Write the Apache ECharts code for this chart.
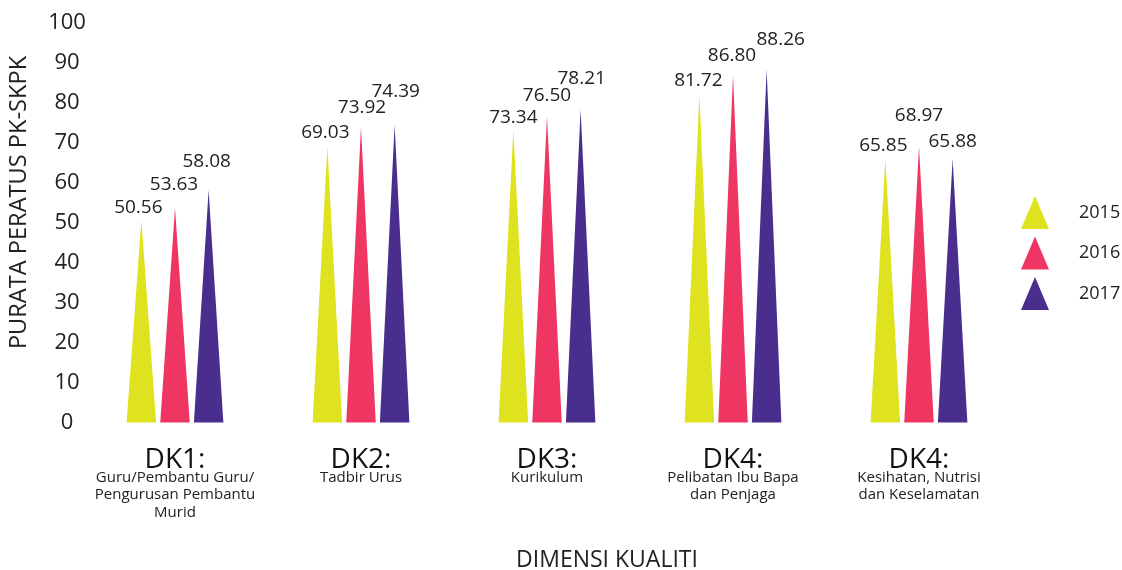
<!DOCTYPE html>
<html>
<head>
<meta charset="utf-8">
<script src="https://cdn.jsdelivr.net/npm/echarts@6/dist/echarts.min.js"></script>
<style>
html,body{margin:0;padding:0;background:#fff;}
#chart{width:1122px;height:570px;}
</style>
</head>
<body>
<div id="chart"></div>
<script>
var codes = ['DK1:', 'DK2:', 'DK3:', 'DK4:', 'DK4:'];
var subtitles = [
  'Guru/Pembantu Guru/\nPengurusan Pembantu\nMurid',
  'Tadbir Urus',
  'Kurikulum',
  'Pelibatan Ibu Bapa\ndan Penjaga',
  'Kesihatan, Nutrisi\ndan Keselamatan'
];
var years = ['2015', '2016', '2017'];
var v2015 = [50.56, 69.03, 73.34, 81.72, 65.85];
var v2016 = [53.63, 73.92, 76.50, 86.80, 68.97];
var v2017 = [58.08, 74.39, 78.21, 88.26, 65.88];
var yTicks = [0, 10, 20, 30, 40, 50, 60, 70, 80, 90, 100];

// label placement (layout only): how far each value label sits above its tip, and sideways nudge
var labelRise = [
  [16, 17, 15, 19, 17],
  [27, 23, 24, 23, 35],
  [32, 37, 35, 33, 21]
];
var labelNudge = [
  [-3, -2, 0, -1, -2],
  [-1, 1, 0, -1, 0],
  [-2, 1, 1, 14, 0]
];

var colors = ['#DFE21F', '#EF3561', '#4A2E8E'];
var FONT = "'Open Sans', 'Noto Sans', sans-serif";
var LABEL_SIZE = 19;

var categories = codes.map(function (c, i) { return c + '\n' + subtitles[i]; });
var seriesValues = [v2015, v2016, v2017];

var chart = echarts.init(document.getElementById('chart'), null, {renderer: 'canvas'});

var option = {
  backgroundColor: '#ffffff',
  animation: false,
  grid: {left: 82, right: 110, top: 22.5, bottom: 147.5},
  legend: {
    orient: 'vertical',
    left: 1016,
    top: 191,
    itemWidth: 28,
    itemHeight: 33,
    itemGap: 7.5,
    icon: 'triangle',
    data: years,
    textStyle: {fontFamily: FONT, fontSize: 18, color: '#222', padding: [0, 0, 0, 25]}
  },
  xAxis: {
    type: 'category',
    data: categories,
    axisLine: {show: false},
    axisTick: {show: false},
    axisLabel: {
      interval: 0,
      margin: 30,
      formatter: function (val) {
        var parts = val.split('\n');
        var out = '{a|' + parts[0] + '}';
        for (var i = 1; i < parts.length; i++) out += '\n{b|' + parts[i] + '}';
        return out;
      },
      rich: {
        a: {fontFamily: FONT, fontSize: 28, color: '#111', lineHeight: 16},
        b: {fontFamily: FONT, fontSize: 15, color: '#222', lineHeight: 17.5}
      }
    }
  },
  yAxis: {
    type: 'value',
    min: 0,
    max: 100,
    interval: 10,
    axisLine: {show: false},
    axisTick: {show: false},
    splitLine: {show: false},
    axisLabel: {
      fontFamily: FONT, fontSize: 22, color: '#222', align: 'center', margin: 15,
      formatter: function (v) { return yTicks.indexOf(v) >= 0 ? String(v) : ''; }
    }
  },
  graphic: [{
    type: 'text',
    x: 19,
    y: 202.5,
    rotation: Math.PI / 2,
    style: {
      text: 'PURATA PERATUS PK-SKPK',
      fontFamily: FONT, fontSize: 23.6, fill: '#222',
      align: 'center', verticalAlign: 'middle'
    }
  }, {
    type: 'text',
    x: 607,
    y: 560,
    style: {
      text: 'DIMENSI KUALITI',
      fontFamily: FONT, fontSize: 23, fill: '#222',
      align: 'center', verticalAlign: 'middle'
    }
  }],
  series: years.map(function (y, i) {
    return {
      name: y,
      type: 'pictorialBar',
      symbol: 'triangle',
      barWidth: 29.5,
      barGap: '14%',
      itemStyle: {color: colors[i]},
      label: {
        show: true,
        position: 'top',
        distance: 0,
        fontFamily: FONT,
        fontSize: LABEL_SIZE,
        color: '#222',
        formatter: function (p) { return p.value.toFixed(2); }
      },
      data: seriesValues[i].map(function (v, j) {
        return {
          value: v,
          label: {offset: [labelNudge[i][j], -(labelRise[i][j] - LABEL_SIZE / 2 - 3.5)]}
        };
      })
    };
  })
};

chart.setOption(option);
</script>
</body>
</html>
